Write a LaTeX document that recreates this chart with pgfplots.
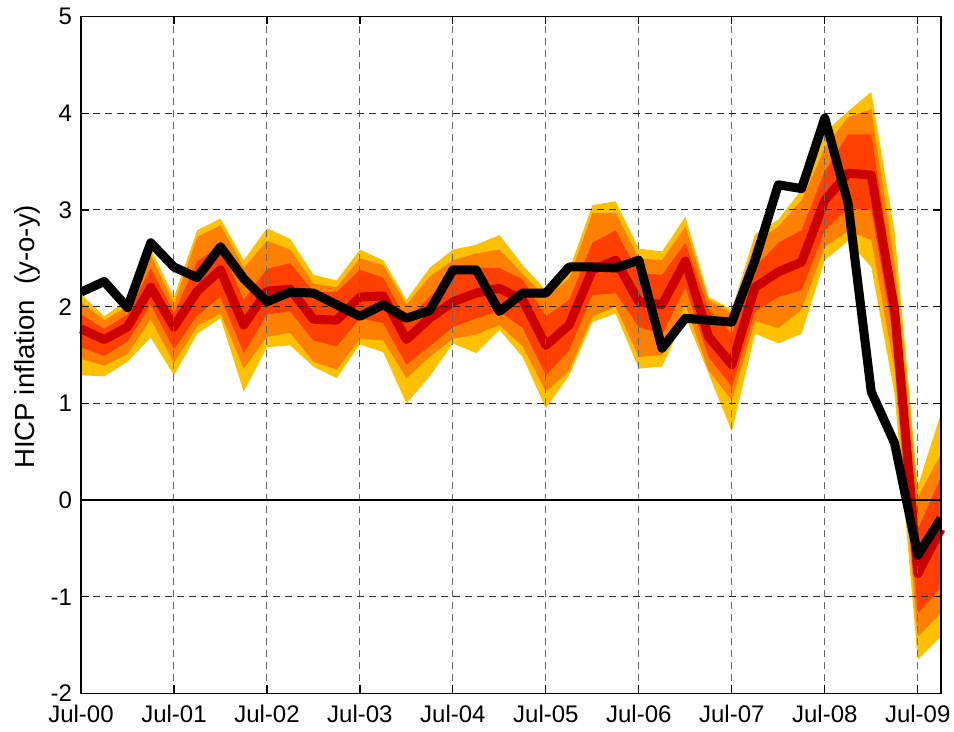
\documentclass[border=0pt]{standalone}
\usepackage{fontspec}
\setmainfont{Liberation Sans}
\usepackage{pgfplots}
\usepackage{pgfplotstable}
\pgfplotsset{compat=1.18}
\usepgfplotslibrary{fillbetween}
\definecolor{fanY}{RGB}{255,192,0}
\definecolor{fanO}{RGB}{255,128,0}
\definecolor{fanR}{RGB}{255,64,0}
\definecolor{fanD}{RGB}{204,0,0}
\pgfplotsset{
  layers/fanlayers/.define layer set={
    axis background, pre main, axis grid, axis ticks, axis lines,
    axis tick labels, main, axis descriptions, axis foreground
  }{},
}
\pgfplotstableread{
i ylo olo rlo m rhi ohi yhi act
0 1.29 1.46 1.58 1.77 1.92 2.05 2.13 2.15
1 1.28 1.39 1.49 1.66 1.77 1.86 1.90 2.26
2 1.43 1.51 1.64 1.79 1.92 2.00 2.07 1.99
3 1.68 1.87 2.02 2.20 2.40 2.53 2.60 2.66
4 1.29 1.42 1.56 1.79 1.93 2.03 2.10 2.41
5 1.72 1.80 1.91 2.16 2.47 2.72 2.79 2.30
6 1.88 1.93 2.10 2.38 2.63 2.84 2.91 2.62
7 1.12 1.36 1.52 1.81 2.07 2.40 2.48 2.29
8 1.58 1.69 1.92 2.16 2.39 2.68 2.81 2.05
9 1.60 1.73 1.95 2.18 2.45 2.59 2.70 2.15
10 1.38 1.43 1.65 1.87 2.15 2.24 2.33 2.14
11 1.26 1.35 1.59 1.86 2.15 2.20 2.27 2.02
12 1.61 1.67 1.88 2.10 2.38 2.50 2.59 1.90
13 1.53 1.65 1.83 2.11 2.30 2.43 2.48 2.02
14 1.00 1.26 1.40 1.66 1.86 2.02 2.07 1.88
15 1.28 1.48 1.59 1.88 2.10 2.31 2.40 1.96
16 1.62 1.67 1.79 2.05 2.34 2.48 2.59 2.38
17 1.52 1.71 1.88 2.14 2.40 2.55 2.64 2.38
18 1.76 1.81 1.95 2.19 2.40 2.59 2.74 1.95
19 1.48 1.59 1.78 2.07 2.28 2.34 2.43 2.14
20 0.95 1.12 1.29 1.60 1.90 2.10 2.17 2.14
21 1.29 1.34 1.55 1.81 2.07 2.29 2.38 2.41
22 1.84 1.90 2.12 2.38 2.66 2.97 3.05 2.41
23 1.93 2.00 2.14 2.48 2.79 2.97 3.09 2.40
24 1.36 1.48 1.79 2.05 2.34 2.50 2.60 2.48
25 1.38 1.50 1.71 2.02 2.33 2.48 2.57 1.57
26 1.90 2.02 2.20 2.47 2.66 2.83 2.93 1.88
27 1.31 1.34 1.48 1.69 1.97 2.07 2.10 1.86
28 0.71 1.03 1.17 1.40 1.72 1.93 1.97 1.84
29 1.72 1.85 1.95 2.20 2.41 2.66 2.75 2.48
30 1.62 1.78 2.10 2.36 2.66 2.83 2.90 3.26
31 1.72 1.97 2.17 2.46 2.79 3.10 3.21 3.22
32 2.48 2.62 2.79 3.10 3.40 3.64 3.80 3.95
33 2.68 2.78 3.02 3.38 3.78 3.96 4.02 3.07
34 2.41 2.69 3.00 3.36 3.78 4.04 4.22 1.12
35 1.10 1.35 1.62 1.97 2.20 2.45 2.78 0.59
36 -1.65 -1.41 -1.17 -0.76 -0.30 0.03 0.14 -0.57
37 -1.41 -1.17 -0.90 -0.30 0.24 0.48 0.90 -0.19
}\fan
\begin{document}
\begin{tikzpicture}
\begin{axis}[
  set layers=fanlayers,
  at={(0,0)}, anchor=south west,
  scale only axis,
  width=430pt, height=338.5pt,
  xmin=0, xmax=37, ymin=-2, ymax=5,
  xtick={0,4,...,36},
  xticklabels={Jul-00,Jul-01,Jul-02,Jul-03,Jul-04,Jul-05,Jul-06,Jul-07,Jul-08,Jul-09},
  ytick={-2,-1,0,1,2,3,4,5},
  /pgf/number format/assume math mode=true,
  ticklabel style={font=\fontsize{12}{14}\selectfont},
  tick align=inside, tick pos=both,
  major tick length=4pt,
  every tick/.style={black, line width=0.6pt},
  axis line style={black, line width=0.8pt},
  grid=major,
  x grid style={gray!80!black, line width=0.5pt, dash pattern=on 3.5pt off 2.5pt},
  y grid style={black!85, line width=0.5pt, dash pattern=on 3.5pt off 2.5pt},
  xticklabel style={yshift=-2.5pt},
  yticklabel style={xshift=-1pt},
  ylabel={HICP inflation\ \ (y-o-y)},
  ylabel style={font=\fontsize{13.8}{15}\selectfont, at={(axis description cs:0,0.527)}, anchor=south, yshift=17pt},
]
\addplot[draw=none, name path=ylo, forget plot] table[x=i,y=ylo]{\fan};
\addplot[draw=none, name path=yhi, forget plot] table[x=i,y=yhi]{\fan};
\addplot[draw=none, name path=olo, forget plot] table[x=i,y=olo]{\fan};
\addplot[draw=none, name path=ohi, forget plot] table[x=i,y=ohi]{\fan};
\addplot[draw=none, name path=rlo, forget plot] table[x=i,y=rlo]{\fan};
\addplot[draw=none, name path=rhi, forget plot] table[x=i,y=rhi]{\fan};
\addplot[fill=fanY, draw=none] fill between[of=yhi and ylo];
\addplot[fill=fanO, draw=none] fill between[of=ohi and olo];
\addplot[fill=fanR, draw=none] fill between[of=rhi and rlo];
\addplot[fanD, line width=4.5pt, line join=round, on layer=pre main] table[x=i,y=m]{\fan};
\addplot[black, line width=1.3pt] coordinates {(0,0) (37,0)};
\addplot[black, line width=4.5pt, line join=round] table[x=i,y=act]{\fan};
\end{axis}
\pgfresetboundingbox
\path[use as bounding box] (-40.5pt,-19pt) rectangle (436.5pt,346.75pt);
\end{tikzpicture}
\end{document}
